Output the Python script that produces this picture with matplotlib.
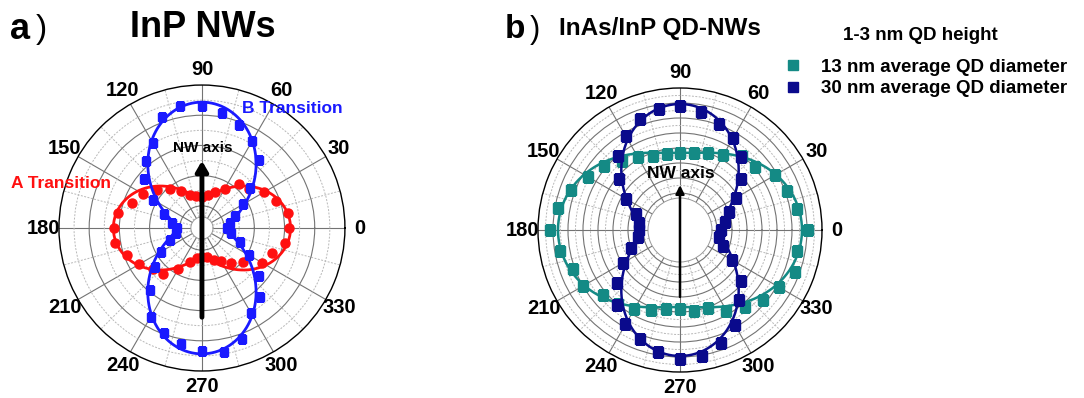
import numpy as np
import matplotlib
matplotlib.use('Agg')
import matplotlib.pyplot as plt
from matplotlib.lines import Line2D

plt.rcParams['font.family'] = ['Liberation Sans', 'DejaVu Sans']
plt.rcParams['font.weight'] = 'bold'

# polarisation angle of the measurements (deg)
angles = np.arange(0, 360, 10)

# a) InP NWs, PL intensity (arb. units)
a_trans = [86, 87, 78, 71, 61, 57, 45, 38, 33, 31, 32, 35, 42, 50, 58, 68, 74, 85,
           87, 88, 79, 72, 63, 60, 47, 36, 30, 29, 29, 34, 38, 45, 53, 69, 74, 84]
b_trans = [25, 28, 35, 47, 62, 88, 100, 109, 116, 121, 123, 117, 98, 87, 75, 56, 40, 30,
           25, 26, 34, 47, 61, 80, 102, 111, 117, 122, 125, 117, 98, 89, 74, 54, 40, 29]

# b) InAs/InP QD-NWs, PL intensity (arb. units)
qd13 = [128, 119, 114, 110, 98, 97, 87, 82, 78, 77, 77, 79, 84, 90, 99, 106, 116, 124,
        130, 122, 114, 112, 101, 97, 91, 85, 80, 79, 82, 83, 93, 101, 109, 114, 122, 119]
qd30 = [41, 46, 52, 65, 80, 95, 106, 113, 120, 124, 123, 118, 108, 97, 80, 62, 47, 42,
        41, 43, 52, 66, 82, 98, 109, 116, 124, 129, 128, 120, 110, 92, 80, 60, 46, 40]

# cos^2 / sin^2 fits: (offset, amplitude)
a_fit = (30, 58)
b_fit = (25, 100)
qd13_fit = (77, 45)
qd30_fit = (40, 86)

red = '#ff1010'
blue = '#1a1aff'
teal = '#148a85'
navy = '#0a0a8c'

fig = plt.figure(figsize=(10.84, 3.98), dpi=100)
ax1 = fig.add_axes([0.0544, 0.0678, 0.2638, 0.7186], projection='polar')
ax2 = fig.add_axes([0.4963, 0.0653, 0.2620, 0.7136], projection='polar')

th = np.linspace(0, 2 * np.pi, 721)
t = np.radians(angles)


def style_polar(ax, rmin, rmax, major, minor):
    ax.set_rorigin(0)
    ax.set_rlim(rmin, rmax)
    ax.set_xticks(np.radians(np.arange(0, 360, 30)))
    ax.set_xticklabels([str(a) for a in range(0, 360, 30)], fontsize=14.5, fontweight='bold')
    ax.set_xticks(np.radians(np.arange(15, 360, 30)), minor=True)
    ax.set_yticks(major)
    ax.set_yticks(minor, minor=True)
    ax.set_yticklabels([])
    ax.tick_params(axis='x', pad=4, length=0)
    ax.tick_params(axis='x', which='minor', length=0)
    ax.tick_params(axis='y', which='both', length=0)
    ax.grid(True, which='major', color='0.45', lw=0.8, ls='-')
    ax.grid(True, which='minor', color='0.72', lw=0.7, ls=(0, (2, 1.5)))
    ax.spines['polar'].set_color('black')
    ax.spines['polar'].set_linewidth(1.0)
    ax.spines['inner'].set_color('0.6')
    ax.spines['inner'].set_linewidth(0.7)


# ---- a) InP NWs
style_polar(ax1, 11, 142, [22, 52, 82, 112], [37, 67, 97, 127])
ax1.plot(th, a_fit[0] + a_fit[1] * np.cos(th) ** 2, color=red, lw=2)
ax1.plot(t, a_trans, 'o', color=red, ms=6.5)
ax1.plot(th, b_fit[0] + b_fit[1] * np.sin(th) ** 2, color=blue, lw=2)
ax1.plot(t, b_trans, 's', color=blue, ms=6)

fig.text(0.009, 0.925, 'a', fontsize=26, fontweight='bold', va='center')
fig.text(0.033, 0.925, ')', fontsize=24, fontweight='normal', va='center')
fig.text(0.187, 0.93, 'InP NWs', fontsize=26, fontweight='bold', ha='center', va='center')
fig.text(0.270, 0.727, 'B Transition', fontsize=12.5, fontweight='bold', color=blue,
         ha='center', va='center')
fig.text(0.0565, 0.540, 'A Transition', fontsize=12.5, fontweight='bold', color=red,
         ha='center', va='center')
fig.text(0.187, 0.628, 'NW axis', fontsize=11, fontweight='bold', ha='center', va='center')
fig.add_artist(matplotlib.patches.FancyArrowPatch(
    (0.1863, 0.203), (0.1863, 0.596), transform=fig.transFigure,
    arrowstyle='-|>,head_length=6,head_width=3.5', lw=3.5, color='black',
    shrinkA=0, shrinkB=0))

# ---- b) InAs/InP QD-NWs
style_polar(ax2, 32, 142, [37, 52, 67, 82, 97, 112, 127], [44.5, 59.5, 74.5, 89.5, 104.5, 119.5, 134.5])
ax2.plot(th, qd13_fit[0] + qd13_fit[1] * np.cos(th) ** 2, color=teal, lw=1.8)
ax2.plot(t, qd13, 's', color=teal, ms=6.5)
ax2.plot(th, qd30_fit[0] + qd30_fit[1] * np.sin(th) ** 2, color=navy, lw=1.8)
ax2.plot(t, qd30, 's', color=navy, ms=6.5)

fig.text(0.466, 0.925, 'b', fontsize=24, fontweight='bold', va='center')
fig.text(0.489, 0.925, ')', fontsize=22, fontweight='normal', va='center')
fig.text(0.609, 0.928, 'InAs/InP QD-NWs', fontsize=17.5, fontweight='bold', ha='center', va='center')
fig.text(0.628, 0.563, 'NW axis', fontsize=12.5, fontweight='bold', ha='center', va='center')
fig.add_artist(matplotlib.patches.FancyArrowPatch(
    (0.6273, 0.254), (0.6273, 0.535), transform=fig.transFigure,
    arrowstyle='-|>,head_length=5,head_width=2.5', lw=1.8, color='black',
    shrinkA=0, shrinkB=0))

# legend: group heading plus one marker per QD size
fig.text(0.849, 0.912, '1-3 nm QD height', fontsize=13.5, fontweight='bold', ha='center', va='center')
handles = [Line2D([], [], ls='none', marker='s', color=teal, ms=7),
           Line2D([], [], ls='none', marker='s', color=navy, ms=7)]
leg = fig.legend(handles, ['13 nm average QD diameter', '30 nm average QD diameter'],
                 loc='upper left', bbox_to_anchor=(0.718, 0.872),
                 frameon=False, prop={'size': 13.5, 'weight': 'bold'},
                 handletextpad=1.1, labelspacing=0.25, borderaxespad=0, handlelength=0.8)

fig.savefig('out.png', dpi=100)
